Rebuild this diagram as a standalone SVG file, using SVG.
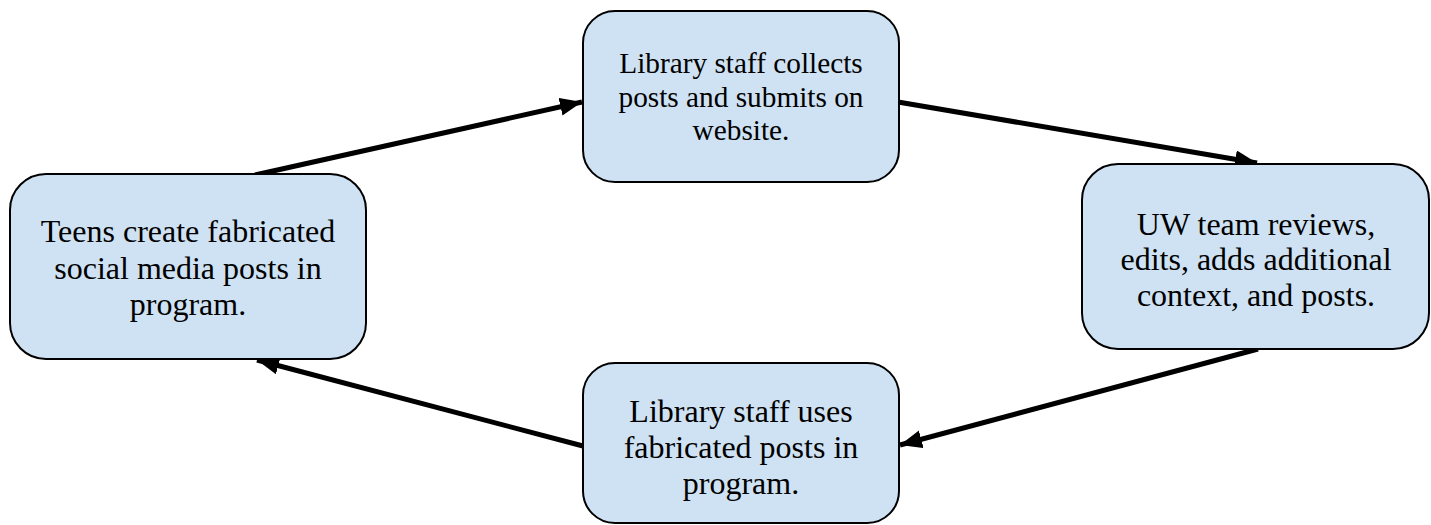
<svg xmlns="http://www.w3.org/2000/svg" width="1431" height="525" viewBox="0 0 1431 525">
<defs>
<style>
.node{fill:#cfe2f3;stroke:#000;stroke-width:2}
.t{font-family:"Liberation Serif","Times New Roman",serif;fill:#000;text-anchor:middle}
.big{font-size:32px}
.small{font-size:29.3px}
.conn{stroke:#000;stroke-width:5;fill:none;marker-end:url(#ah)}
</style>
<marker id="ah" markerUnits="userSpaceOnUse" markerWidth="24" markerHeight="20" refX="22" refY="9" orient="auto">
<path d="M0,0 L22,9 L0,18 Z" fill="#000"/>
</marker>
</defs>
<rect width="1431" height="525" fill="#fff"/>
<g id="connectors">
<line class="conn" x1="255" y1="175" x2="582" y2="102"/>
<line class="conn" x1="898" y1="102" x2="1257" y2="163"/>
<line class="conn" x1="1258" y1="349" x2="900" y2="445"/>
<line class="conn" x1="583" y1="446" x2="257" y2="360"/>
</g>
<g id="n1">
<rect class="node" x="10" y="174" width="356" height="185" rx="36"/>
<text class="t big" x="188" y="242">Teens create fabricated</text>
<text class="t big" x="188" y="279">social media posts in</text>
<text class="t big" x="188" y="315">program.</text>
</g>
<g id="n2">
<rect class="node" x="583" y="11" width="316" height="171" rx="32"/>
<text class="t small" x="741" y="73">Library staff collects</text>
<text class="t small" x="741" y="107">posts and submits on</text>
<text class="t small" x="741" y="140">website.</text>
</g>
<g id="n3">
<rect class="node" x="1082" y="164" width="347" height="185" rx="36"/>
<text class="t big" x="1256" y="235">UW team reviews,</text>
<text class="t big" x="1256" y="270">edits, adds additional</text>
<text class="t big" x="1256" y="306">context, and posts.</text>
</g>
<g id="n4">
<rect class="node" x="583" y="363" width="316" height="160" rx="32"/>
<text class="t big" x="741" y="422">Library staff uses</text>
<text class="t big" x="741" y="458">fabricated posts in</text>
<text class="t big" x="741" y="494">program.</text>
</g>
</svg>
